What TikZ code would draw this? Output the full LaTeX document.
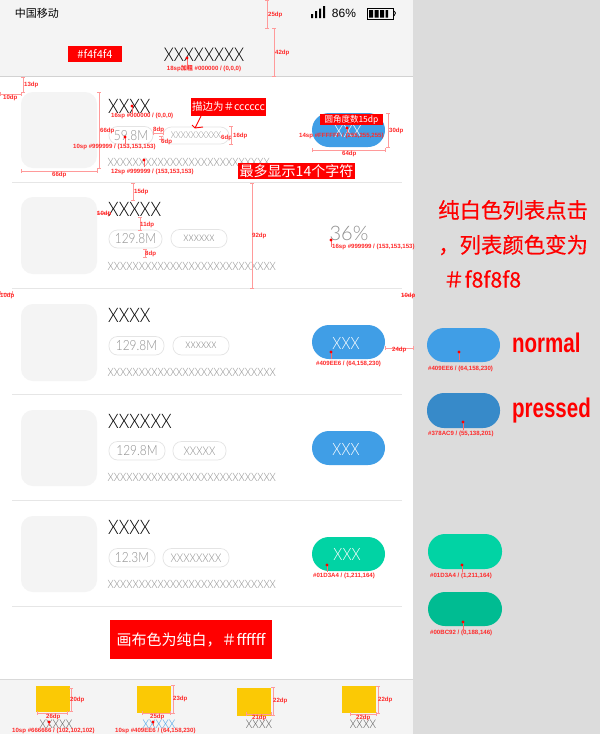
\documentclass[tikz,border=0pt]{standalone}
\usepackage{fontspec}
\setmainfont{Liberation Sans}
\newfontfamily\lightf{Lato Light}
\newfontfamily\cjkf{Noto Sans CJK SC}
\newfontfamily\cjkm[FakeBold=0.5]{Noto Sans CJK SC}
\usetikzlibrary{calc}
\definecolor{pagegray}{HTML}{DCDCDC}
\definecolor{headgray}{HTML}{F4F4F4}
\definecolor{linegray}{HTML}{E6E6E6}
\definecolor{tagline}{HTML}{E4E4E4}
\definecolor{txtgray}{HTML}{8E8E8E}
\definecolor{bluebtn}{HTML}{409EE6}
\definecolor{bluedark}{HTML}{378AC9}
\definecolor{greenbtn}{HTML}{01D3A4}
\definecolor{greendark}{HTML}{00BC92}
\definecolor{iconyellow}{HTML}{FBC905}
\definecolor{annored}{HTML}{FF2A2A}
\definecolor{dimline}{HTML}{FF9A9A}
\newcounter{autonode}
\newcommand{\fs}[1]{\fontsize{#1}{#1}\selectfont}
\newcommand{\redlab}[3]{\stepcounter{autonode}\node[redtxt,anchor=west,name=rl\theautonode] at (#1,#2) {#3};}
\newcommand{\dimv}[3]{\draw[dimstyle] (#1-2,#2)--(#1+2,#2) (#1,#2)--(#1,#3) (#1-2,#3)--(#1+2,#3);}
\newcommand{\dimh}[3]{\draw[dimstyle] (#2,#1-2)--(#2,#1+2) (#2,#1)--(#3,#1) (#3,#1-2)--(#3,#1+2);}
\newcommand{\pinmark}[3]{\draw[color=annored!70,line width=.6pt] (#1,#2)--(#1,#3); \fill[red] (#1,#2) circle (1.6);}
\newcommand{\thumb}[2]{\fill[headgray,rounded corners=12] (21,#1) rectangle (97,#2);}
\newcommand{\rowtitle}[3]{\stepcounter{autonode}\node[titletxt,anchor=west,name=tt\theautonode] at (#1,#2) {#3};}
\newcommand{\longtext}[2]{\stepcounter{autonode}\node[longtxt,anchor=west,name=lt\theautonode] at (107.5,#1) {#2};}
\newcommand{\tagpill}[6]{\stepcounter{autonode}\draw[tagline,line width=.7pt,rounded corners=8.5,fill=white] (#1,#2) rectangle (#3,#4); \node[tagtxt,name=tg\theautonode] at ({(#1+#3)/2},{(#2+#4)/2}) {\fs{#6}#5};}
\newcommand{\btn}[5]{\fill[#5,rounded corners=17] (#1,#2) rectangle (#3,#4);}
\newcommand{\redbox}[6]{\stepcounter{autonode}\fill[red] (#1,#2) rectangle (#3,#4); \node[text=white,font=\cjkf,name=rb\theautonode] at ({(#1+#3)/2},{(#2+#4)/2}) {\fs{#6}#5};}
\tikzset{
 redtxt/.style={text=annored,font=\bfseries\fontsize{6.1}{6.1}\selectfont,inner sep=0pt},
 dimstyle/.style={color=dimline,line width=.8pt},
 titletxt/.style={font=\lightf\fontsize{20}{20}\selectfont,inner sep=0pt,text=black,xscale=.85},
 longtxt/.style={font=\lightf\fontsize{11.5}{11.5}\selectfont,inner sep=0pt,text=txtgray,xscale=.87},
 tagtxt/.style={font=\lightf,inner sep=0pt,text=txtgray,xscale=.85},
 rowline/.style={color=linegray,line width=.7pt},
 btntxt/.style={font=\lightf\fontsize{17}{17}\selectfont,inner sep=0pt,text=white,xscale=.85},
 bigred/.style={font=\cjkm\fontsize{21.4}{21.4}\selectfont,text=red,inner sep=0pt},
 iconbox/.style={fill=iconyellow},
 navtxt/.style={font=\lightf\fontsize{12}{12}\selectfont,inner sep=0pt,text=black!65,xscale=.87},
}
\begin{document}
\begin{tikzpicture}[x=1pt,y=-1pt]
\path[use as bounding box] (0,0) rectangle (600,734);
\fill[white] (0,0) rectangle (413,734);
\fill[pagegray] (413,0) rectangle (600,734);
\fill[headgray] (0,0) rectangle (413,76);
\draw[color=gray!35,line width=.7pt] (0,76.5)--(413,76.5);
\fill[headgray] (0,680) rectangle (413,734);
\draw[color=gray!30,line width=.7pt] (0,679.5)--(413,679.5);
% status bar
\node[font=\cjkf\fontsize{11}{11}\selectfont,inner sep=0pt,name=carrier] at (37,13) {中国移动};
\fill[black] (311,14) rectangle (313,18) (315,11) rectangle (317,18) (319,8.5) rectangle (321,18) (323,6) rectangle (325,18);
\node[font=\fontsize{12}{12}\selectfont,inner sep=0pt,name=pct] at (344,13) {86\%};
\draw[black,line width=1pt] (367.5,8.5) rectangle (393.5,19);
\fill[black] (369,10) rectangle (373,17.5) (374.5,10) rectangle (378.5,17.5) (380,10) rectangle (384,17.5) (385.5,10) rectangle (388,17.5);
\draw[black,line width=.8pt] (394,11)--(395.5,13)--(394,16);
% header content
\redbox{68}{46}{122}{62}{\#f4f4f4}{11}
\node[font=\lightf\fontsize{19}{19}\selectfont,inner sep=0pt,xscale=.85,name=headtitle] at (204,55) {XXXXXXXX};
\pinmark{187}{58}{65}
\node[redtxt,name=headlab] at (204,69) {18sp{\cjkf 加粗} \#000000 / (0,0,0)};
\dimv{267}{0}{28}\redlab{268}{14.5}{25dp}
\dimv{274}{28}{76}\redlab{275}{53}{42dp}
% separators
\foreach \yy in {182.5,288.5,394.5,500.5,606.5} \draw[rowline] (12,\yy)--(402,\yy);
% thumbnails
\thumb{92}{168}\thumb{197}{274}\thumb{304}{381}\thumb{410}{486}\thumb{516}{592}
% row 1
\rowtitle{108}{106}{XXXX}
\tagpill{109}{126.5}{153}{144}{59.8M}{14}
\tagpill{163}{127}{229}{144}{XXXXXXXXXX}{9.5}
\longtext{162}{XXXXXXXXXXXXXXXXXXXXXXXXXX}
% row 2
\rowtitle{108}{209}{XXXXX}
\tagpill{109}{230}{162}{248}{129.8M}{14}
\tagpill{171}{229.5}{227}{247.5}{xxxxxx}{13}
\longtext{266}{XXXXXXXXXXXXXXXXXXXXXXXXXXX}
\node[font=\lightf\fontsize{20}{20}\selectfont,inner sep=0pt,text=txtgray,name=percent] at (349,233) {36\%};
% row 3
\rowtitle{108}{315.5}{XXXX}
\tagpill{109}{336.5}{164}{355}{129.8M}{14}
\tagpill{173}{336.5}{229}{355}{xxxxxx}{13}
\longtext{372}{XXXXXXXXXXXXXXXXXXXXXXXXXXX}
% row 4
\rowtitle{108}{421}{XXXXXX}
\tagpill{109}{441.5}{165}{460}{129.8M}{14}
\tagpill{173}{441.5}{226}{460}{XXXXX}{12}
\longtext{477}{XXXXXXXXXXXXXXXXXXXXXXXXXXX}
% row 5
\rowtitle{108}{527}{XXXX}
\tagpill{109}{548.5}{155}{567}{12.3M}{14}
\tagpill{163}{548.5}{229}{567}{XXXXXXXX}{12}
\longtext{584}{XXXXXXXXXXXXXXXXXXXXXXXXXXX}
% buttons
\btn{312}{113}{385}{147}{bluebtn}
\node[btntxt,name=b1] at (348,131) {XXX};
\btn{312}{325}{385}{359}{bluebtn}
\node[btntxt,name=b3] at (346,343) {XXX};
\btn{312}{431}{385}{465}{bluebtn}
\node[btntxt,name=b4] at (346,449) {XXX};
\btn{312}{537}{385}{571}{greenbtn}
\node[btntxt,name=b5] at (347,554) {XXX};
\btn{427}{328}{500}{362}{bluebtn}
\btn{427}{393}{500}{428}{bluedark}
\btn{428}{534}{502}{569}{greenbtn}
\btn{428}{592}{502}{626}{greendark}
% row 1 annotations
\dimv{23}{77}{92}\redlab{24}{85}{13dp}
\dimh{94}{0}{21}\redlab{3}{97.5}{10dp}
\dimh{171}{21}{97}\redlab{52}{174.5}{66dp}
\dimv{99}{92}{168}\redlab{100}{131}{66dp}
\pinmark{132}{106}{113}\redlab{111}{116}{16sp \#000000 / (0,0,0)}
\pinmark{125}{137}{144}\redlab{73}{147}{10sp \#999999 / (153,153,153)}
\pinmark{144}{160}{167}\redlab{111}{171.5}{12sp \#999999 / (153,153,153)}
\dimh{133}{153}{163}\redlab{153}{130}{8dp}
\dimv{161}{136}{139}\redlab{161}{142}{6dp}
\redlab{221}{138}{6dp}
\dimv{231}{126}{144}\redlab{233}{136}{16dp}
\redbox{191}{98}{266}{116}{描边为＃cccccc}{10.5}
\coordinate (arrowstart) at (201,116);
\coordinate (arrowtip) at (195,128);
\draw[red,line width=.9pt] (arrowstart)--(arrowtip) (192,125)--(arrowtip)--(203,127);
\redbox{238}{163}{355}{179}{最多显示14个字符}{14}
\redbox{320}{114}{383}{125}{圆角度数15dp}{8.5}
\pinmark{347}{128}{133}\redlab{299}{136}{14sp \#FFFFFF / (255,255,255)}
\dimv{388}{113}{147}\redlab{389}{131}{30dp}
\dimh{150}{312}{385}\redlab{342}{153.5}{64dp}
% row 2 annotations
\dimv{133}{183}{200}\redlab{134}{192}{15dp}
\dimv{252}{183}{288}\redlab{252}{236}{92dp}
\dimh{213}{97}{108}\redlab{97}{214}{10dp}
\dimv{140}{217}{230}\redlab{140}{224.5}{11dp}
\dimv{145}{249}{257}\redlab{145}{253.5}{8dp}
\pinmark{331}{240}{247}\redlab{332}{247}{16sp \#999999 / (153,153,153)}
% row 3 annotations
\dimh{293}{0}{12}\redlab{0}{295.5}{10dp}
\dimh{295}{402}{413}\redlab{401}{296}{10dp}
\dimh{348}{385}{413}\redlab{392}{350}{24dp}
\pinmark{331}{352}{359}\redlab{316}{364}{\#409EE6 / (64,158,230)}
\pinmark{459}{352}{360}\redlab{428}{369}{\#409EE6 / (64,158,230)}
\pinmark{463}{422}{430}\redlab{428}{434}{\#378AC9 / (55,138,201)}
\pinmark{327}{565}{572}\redlab{313}{576}{\#01D3A4 / (1,211,164)}
\pinmark{462}{565}{572}\redlab{430}{576}{\#01D3A4 / (1,211,164)}
\pinmark{463}{622}{630}\redlab{430}{633}{\#00BC92 / (0,188,146)}
% right side text
\node[font=\bfseries\fontsize{27}{27}\selectfont,text=red,inner sep=0pt,anchor=west,xscale=.76,name=normallab] at (512,343) {normal};
\node[font=\bfseries\fontsize{27}{27}\selectfont,text=red,inner sep=0pt,anchor=west,xscale=.76,name=pressedlab] at (512,411) {pressed};
\node[bigred,anchor=west,name=note1] at (438,210) {纯白色列表点击};
\node[bigred,anchor=west,name=note2] at (438,245) {，列表颜色变为};
\node[bigred,anchor=west,name=note3] at (443,279) {＃f8f8f8};
\redbox{110}{620}{272}{659}{画布色为纯白，＃ffffff}{15}
% footer
\fill[iconbox] (36,686) rectangle (70,712);
\fill[iconbox] (137,686) rectangle (171,713);
\fill[iconbox] (237,688) rectangle (271,716);
\fill[iconbox] (342,686) rectangle (376,713);
\node[navtxt,name=nav1] at (56,724) {XXXXX};
\node[navtxt,text=bluebtn,name=nav2] at (159,724) {XXXXX};
\node[navtxt,name=nav3] at (259,724) {XXXX};
\node[navtxt,name=nav4] at (363,724) {XXXX};
\dimv{71}{688}{711}\redlab{70}{700}{20dp}
\dimh{713}{37}{67}\redlab{46}{716.5}{26dp}
\dimv{173}{685}{713}\redlab{173}{699}{23dp}
\dimh{713}{142}{170}\redlab{150}{716.5}{25dp}
\dimv{273}{687}{715}\redlab{273}{700.5}{22dp}
\dimh{714}{246}{271}\redlab{252}{718}{21dp}
\dimv{378}{686}{713}\redlab{378}{700}{22dp}
\dimh{714}{350}{376}\redlab{356}{717.5}{22dp}
\pinmark{49}{722}{726}\redlab{12}{730.5}{10sp \#666666 / (102,102,102)}
\pinmark{153}{722}{726}\redlab{115}{730.5}{10sp \#409EE6 / (64,158,230)}
\end{tikzpicture}
\end{document}
